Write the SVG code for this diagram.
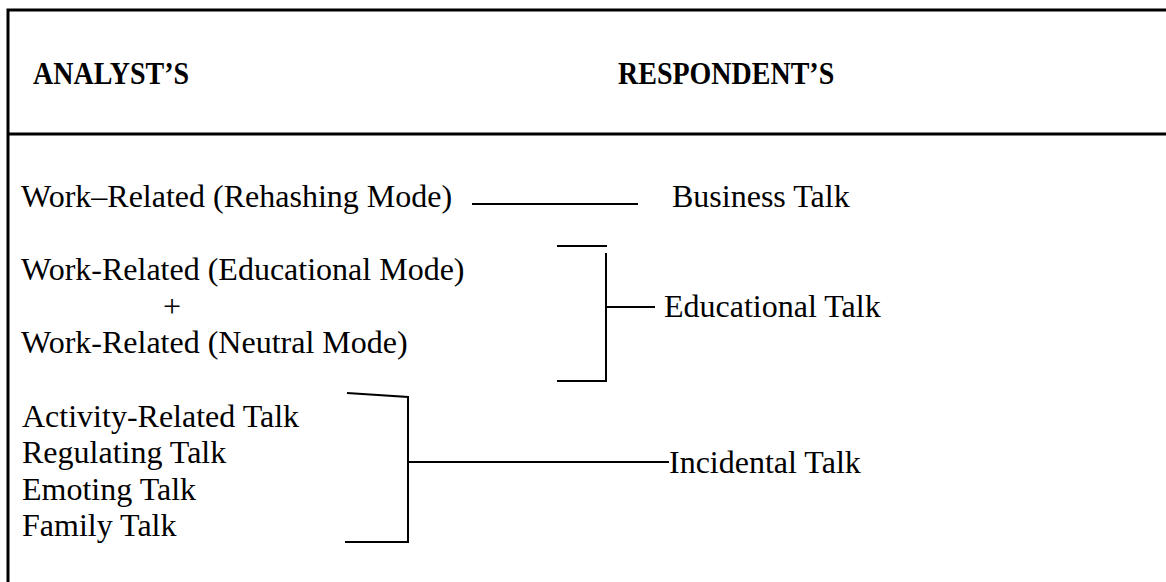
<svg xmlns="http://www.w3.org/2000/svg" width="1166" height="582" viewBox="0 0 1166 582">
<style>
.t{font-family:"Liberation Serif","Times New Roman",serif;font-size:32px;fill:#000}
.h{font-family:"Liberation Serif","Times New Roman",serif;font-size:28px;font-weight:bold;fill:#000}
.b{stroke:#000;stroke-width:3;fill:none}
.c{stroke:#000;stroke-width:2;fill:none}
</style>
<rect width="1166" height="582" fill="#fff"/>
<g id="frame">
<path class="b" d="M8,600 V10 H1170"/>
<line class="b" x1="8" y1="134" x2="1170" y2="134"/>
</g>
<g id="header-analyst"><text class="h" transform="translate(33,84) scale(1,1.12)">ANALYST’S</text></g>
<g id="header-respondent"><text class="h" transform="translate(618,84) scale(1,1.12)">RESPONDENT’S</text></g>
<g id="left-rehashing"><text class="t" x="21" y="207">Work–Related (Rehashing Mode)</text></g>
<g id="right-business"><text class="t" x="672" y="207">Business Talk</text></g>
<g id="left-educational">
<text class="t" x="21" y="280">Work-Related (Educational Mode)</text>
<text class="t" x="163" y="317">+</text>
<text class="t" x="21" y="353">Work-Related (Neutral Mode)</text>
</g>
<g id="right-educational"><text class="t" x="664" y="317">Educational Talk</text></g>
<g id="left-incidental">
<text class="t" x="22" y="427">Activity-Related Talk</text>
<text class="t" x="22" y="463">Regulating Talk</text>
<text class="t" x="22" y="500">Emoting Talk</text>
<text class="t" x="22" y="536">Family Talk</text>
</g>
<g id="right-incidental"><text class="t" x="669" y="473">Incidental Talk</text></g>
<g id="connectors">
<line class="c" x1="472" y1="204" x2="638" y2="204"/>
<line class="c" x1="557" y1="246" x2="607" y2="246"/>
<path class="c" d="M606,253 V381 H557"/>
<line class="c" x1="606" y1="307" x2="655" y2="307"/>
<path class="c" d="M347,393 L408,397 V542 H345"/>
<line class="c" x1="408" y1="462" x2="669" y2="462"/>
</g>
</svg>
